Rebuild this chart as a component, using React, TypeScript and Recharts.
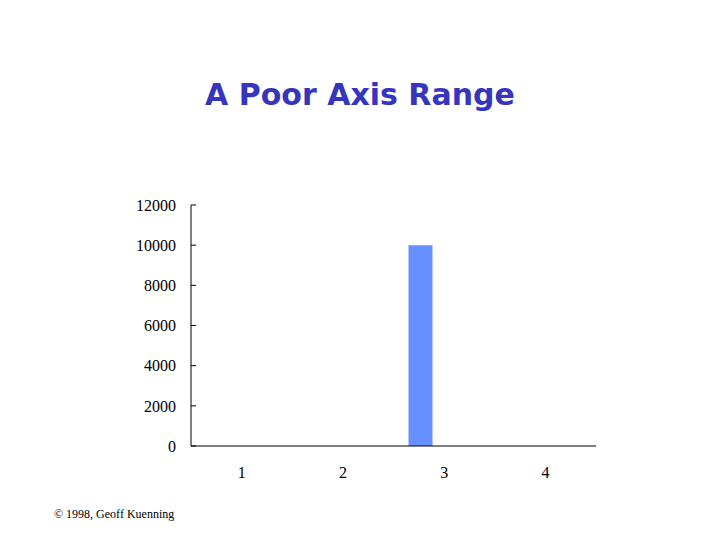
import { BarChart, Bar, XAxis, YAxis } from "recharts";

const categories = ["1", "2", "3", "4"];
const seriesA = [0, 0, 10000, 0];
const seriesB = [0, 0, 0, 0];
const seriesC = [0, 0, 0, 0];
const yTicks = [0, 2000, 4000, 6000, 8000, 10000, 12000];

const data = categories.map((c, i) => ({
  name: c,
  a: seriesA[i],
  b: seriesB[i],
  c: seriesC[i],
}));

export default function App() {
  return (
    <div
      style={{
        position: "absolute",
        left: 0,
        top: 0,
        width: 720,
        height: 540,
        background: "#fff",
      }}
    >
      <div
        style={{
          position: "absolute",
          left: 0,
          width: 720,
          top: 77,
          textAlign: "center",
          fontFamily: "'Comic Sans MS', 'DejaVu Sans', sans-serif",
          fontWeight: "bold",
          fontSize: 30,
          color: "#3535bd",
        }}
      >
        A Poor Axis Range
      </div>
      <BarChart
        width={720}
        height={540}
        data={data}
        margin={{ top: 205, right: 124, left: 131, bottom: 54 }}
        barGap={0}
        barSize={24}
      >
        <XAxis
          dataKey="name"
          height={40}
          tickLine={false}
          tickSize={0}
          tickMargin={21}
          axisLine={{ stroke: "#000" }}
          tick={{ fill: "#000", fontSize: 16, fontFamily: "'Liberation Serif', serif" }}
        />
        <YAxis
          width={60}
          domain={[0, 12000]}
          ticks={yTicks}
          interval={0}
          tickSize={-5}
          tickMargin={20}
          axisLine={{ stroke: "#000" }}
          tickLine={{ stroke: "#000" }}
          tick={{ fill: "#000", fontSize: 16, fontFamily: "'Liberation Serif', serif" }}
        />
        <Bar dataKey="a" fill="#6690ff" isAnimationActive={false} />
        <Bar dataKey="b" fill="#993366" isAnimationActive={false} />
        <Bar dataKey="c" fill="#ffffcc" isAnimationActive={false} />
      </BarChart>
      <div
        style={{
          position: "absolute",
          left: 54,
          top: 507,
          fontFamily: "'Liberation Serif', serif",
          fontSize: 12,
          color: "#000",
        }}
      >
        © 1998, Geoff Kuenning
      </div>
    </div>
  );
}
